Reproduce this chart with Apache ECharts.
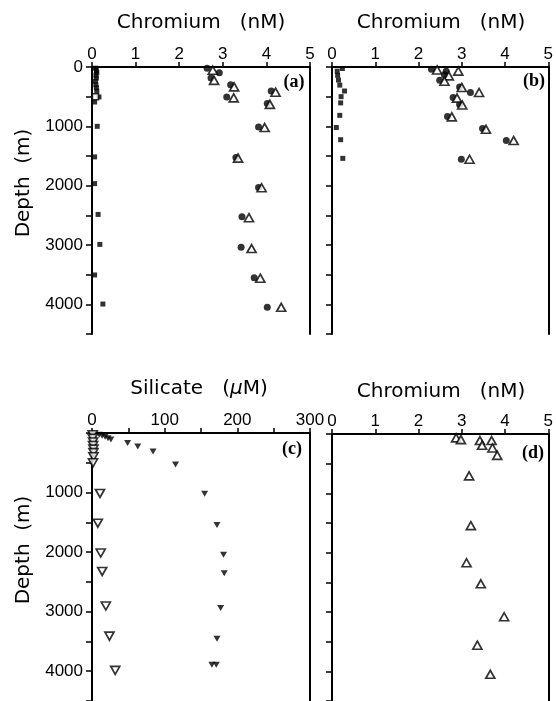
<!DOCTYPE html>
<html>
<head>
<meta charset="utf-8">
<script src="https://cdn.jsdelivr.net/npm/echarts@6/dist/echarts.min.js"></script>
<style>
  html, body { margin: 0; padding: 0; background: #fff; }
  #chart { width: 556px; height: 701px; }
</style>
</head>
<body>
<div id="chart"></div>
<script>
// Panel (a): chromium profiles (nM) vs depth (m)
const aCircleCr    = [2.64, 2.92, 2.73, 3.18, 4.11, 3.09, 4.02, 3.82, 3.30, 3.82, 3.44, 3.42, 3.72, 4.02];
const aCircleDepth = [20, 95, 185, 300, 405, 505, 615, 1010, 1525, 2030, 2525, 3040, 3550, 4050];
const aTriCr       = [2.77, 2.80, 3.26, 4.21, 3.25, 4.08, 3.96, 3.35, 3.89, 3.60, 3.66, 3.86, 4.34];
const aTriDepth    = [55, 225, 335, 425, 520, 630, 1020, 1535, 2035, 2540, 3060, 3560, 4050];
const aSquareCr    = [0.08, 0.10, 0.11, 0.09, 0.10, 0.08, 0.09, 0.10, 0.11, 0.16, 0.06, 0.12, 0.06, 0.06, 0.14, 0.18, 0.06, 0.25];
const aSquareDepth = [20, 60, 95, 140, 185, 240, 300, 350, 405, 505, 590, 1000, 1515, 1965, 2485, 2990, 3505, 3995];
const aOpenSqCr    = [0.08];
const aOpenSqDepth = [500];

// Panel (b): chromium profiles (nM) vs depth (m)
const bCircleCr    = [2.30, 2.64, 2.60, 2.49, 2.95, 3.20, 2.80, 2.95, 2.67, 3.48, 4.03, 2.99];
const bCircleDepth = [40, 70, 130, 225, 335, 430, 515, 630, 835, 1035, 1240, 1555];
const bTriCr       = [2.43, 2.92, 2.70, 2.60, 3.00, 3.40, 2.89, 3.01, 2.77, 3.56, 4.20, 3.18];
const bTriDepth    = [50, 70, 150, 240, 345, 430, 525, 640, 840, 1050, 1240, 1555];
const bSquareCr    = [0.24, 0.12, 0.13, 0.15, 0.18, 0.29, 0.21, 0.20, 0.18, 0.10, 0.20, 0.25];
const bSquareDepth = [25, 70, 140, 220, 305, 405, 500, 605, 815, 1020, 1225, 1540];

// Panel (c): silicate (µM) vs depth (m)
const cFilledSi    = [10, 14, 18, 22, 26, 49, 63, 84, 115, 155, 172, 181, 182, 177, 172, 165, 171];
const cFilledDepth = [30, 45, 65, 90, 110, 170, 225, 310, 530, 1020, 1545, 2045, 2355, 2940, 3455, 3890, 3890];
const cOpenSi      = [1, 1, 1.5, 1.5, 2, 2, 2, 1.4, 11, 8, 12, 14, 19, 24, 32];
const cOpenDepth   = [30, 90, 150, 210, 270, 330, 400, 500, 1015, 1515, 2015, 2325, 2905, 3410, 3985];

// Panel (d): chromium (nM) vs depth (m)
const dTriCr       = [2.87, 2.98, 3.42, 3.69, 3.47, 3.71, 3.82, 3.17, 3.21, 3.11, 3.44, 3.98, 3.36, 3.66];
const dTriDepth    = [65, 95, 110, 110, 190, 235, 360, 705, 1545, 2170, 2525, 3080, 3560, 4050];

// Axis ranges and tick labels
const crRange = [0, 5], crStep = 1;
const siRange = [0, 300], siStep = 100;
const depthRange = [0, 4500], depthStep = 500;
const depthLabelsTop = [0, 1000, 2000, 3000, 4000];
const depthLabelsBottom = [1000, 2000, 3000, 4000];

const pair = (xs, ys) => xs.map((x, i) => [x, ys[i]]);

const chart = echarts.init(document.getElementById('chart'), null, { renderer: 'canvas' });

const tickFont = { fontFamily: 'Liberation Sans', fontSize: 17, color: '#000' };
const black = '#000';

const grids = [
  { left: 92, top: 67, width: 218, height: 267 },
  { left: 332, top: 67, width: 219, height: 267 },
  { left: 92, top: 433, width: 218, height: 269 },
  { left: 332, top: 434, width: 219, height: 268 }
];

function xAxisFor(i, range, step, minor) {
  return {
    gridIndex: i, type: 'value', position: 'top',
    min: range[0], max: range[1], interval: step,
    axisLine: { show: true, onZero: false, lineStyle: { color: black, width: 2 } },
    axisTick: { show: true, inside: false, length: 5, lineStyle: { color: black, width: 1.5 } },
    minorTick: { show: !!minor, splitNumber: 2, length: 5, lineStyle: { color: black, width: 1.5 } },
    axisLabel: Object.assign({ margin: 4 }, tickFont),
    splitLine: { show: false }
  };
}

function yAxisLeft(i, labels) {
  return {
    gridIndex: i, type: 'value', position: 'left', inverse: true,
    min: depthRange[0], max: depthRange[1], interval: depthStep,
    axisLine: { show: true, onZero: false, lineStyle: { color: black, width: 2 } },
    axisTick: { show: true, inside: false, length: 6, lineStyle: { color: black, width: 1.5 } },
    axisLabel: Object.assign({
      show: !!labels, margin: 9,
      formatter: v => (labels && labels.includes(v)) ? String(v) : ''
    }, tickFont),
    splitLine: { show: false }
  };
}

function yAxisRight(i) {
  return {
    gridIndex: i, type: 'value', position: 'right', inverse: true,
    min: depthRange[0], max: depthRange[1],
    axisLine: { show: true, onZero: false, lineStyle: { color: black, width: 2 } },
    axisTick: { show: false }, axisLabel: { show: false }, splitLine: { show: false }
  };
}

const circle = { symbol: 'circle', symbolSize: 7, itemStyle: { color: black } };
const square = { symbol: 'rect', symbolSize: 5, itemStyle: { color: black } };
const openSquare = { symbol: 'rect', symbolSize: 6, itemStyle: { color: '#fff', borderColor: black, borderWidth: 1.5 } };
const openTri = { symbol: 'triangle', symbolSize: [9, 8], itemStyle: { color: '#fff', borderColor: black, borderWidth: 1.7 } };
const openDown = { symbol: 'triangle', symbolRotate: 180, symbolSize: [9, 8], itemStyle: { color: '#fff', borderColor: black, borderWidth: 1.7 } };
const filledDown = { symbol: 'triangle', symbolRotate: 180, symbolSize: [7, 6], itemStyle: { color: black } };

function sc(grid, style, data, z) {
  return Object.assign({
    type: 'scatter', xAxisIndex: grid, yAxisIndex: grid * 2,
    data: data, z: z || 2, silent: true, animation: false
  }, style);
}

function txt(x, y, text, extra) {
  return Object.assign({
    type: 'text', x: x, y: y, silent: true,
    style: Object.assign({ text: text, align: 'center', verticalAlign: 'middle', fill: black,
      fontFamily: 'DejaVu Sans', fontSize: 20 }, (extra && extra.style) || {})
  }, extra && extra.rotation !== undefined ? { rotation: extra.rotation } : {});
}

const panelFont = { fontFamily: 'Liberation Serif', fontSize: 18, fontWeight: 'bold' };

chart.setOption({
  backgroundColor: '#fff',
  animation: false,
  grid: grids,
  xAxis: [
    xAxisFor(0, crRange, crStep, false),
    xAxisFor(1, crRange, crStep, false),
    xAxisFor(2, siRange, siStep, true),
    xAxisFor(3, crRange, crStep, false)
  ],
  yAxis: [
    yAxisLeft(0, depthLabelsTop), yAxisRight(0),
    yAxisLeft(1, null), yAxisRight(1),
    yAxisLeft(2, depthLabelsBottom), yAxisRight(2),
    yAxisLeft(3, null), yAxisRight(3)
  ],
  series: [
    sc(0, square, pair(aSquareCr, aSquareDepth)),
    sc(0, openSquare, pair(aOpenSqCr, aOpenSqDepth), 3),
    sc(0, circle, pair(aCircleCr, aCircleDepth)),
    sc(0, openTri, pair(aTriCr, aTriDepth), 3),

    sc(1, square, pair(bSquareCr, bSquareDepth)),
    sc(1, circle, pair(bCircleCr, bCircleDepth)),
    sc(1, openTri, pair(bTriCr, bTriDepth), 3),

    sc(2, openDown, pair(cOpenSi, cOpenDepth)),
    sc(2, filledDown, pair(cFilledSi, cFilledDepth), 3),

    sc(3, openTri, pair(dTriCr, dTriDepth))
  ],
  graphic: [
    txt(201, 23, 'Chromium   (nM)'),
    txt(441, 23, 'Chromium   (nM)'),
    txt(199, 389, 'Silicate   ({i|μ}M)', { style: { rich: { i: { fontStyle: 'italic', fontFamily: 'DejaVu Sans', fontSize: 20 } } } }),
    txt(441, 392, 'Chromium   (nM)'),
    txt(24, 183, 'Depth  (m)', { rotation: Math.PI / 2 }),
    txt(24, 550, 'Depth  (m)', { rotation: Math.PI / 2 }),
    txt(294, 82, '(a)', { style: panelFont }),
    txt(534, 81, '(b)', { style: panelFont }),
    txt(292, 449, '(c)', { style: panelFont }),
    txt(533, 453, '(d)', { style: panelFont })
  ]
});
</script>
</body>
</html>
